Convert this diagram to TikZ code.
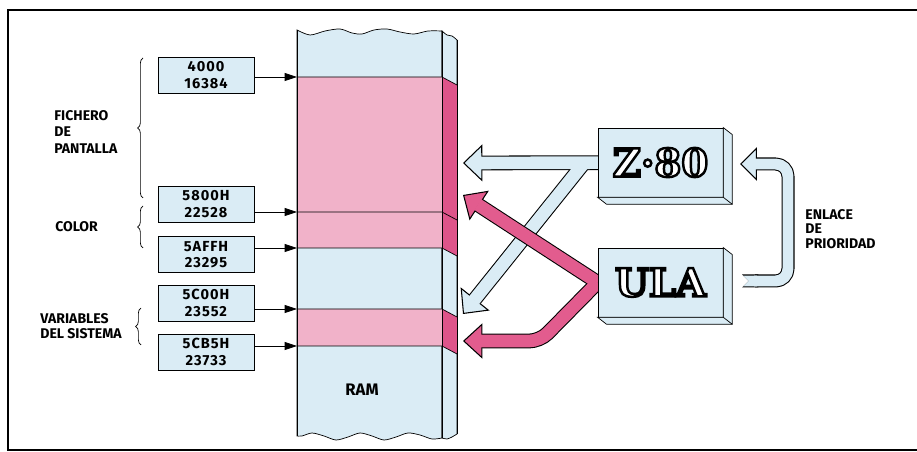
\documentclass[tikz,border=0pt]{standalone}
\usepackage{fontspec}
\setmainfont{Fira Sans}
\newfontfamily\chipfont{DejaVu Serif}
\usetikzlibrary{arrows.meta,decorations.pathreplacing,calc,backgrounds}
\definecolor{ramblue}{RGB}{218,236,245}
\definecolor{rampink}{RGB}{241,178,201}
\definecolor{sidepink}{RGB}{222,84,138}
\definecolor{buspink}{RGB}{226,92,142}
\newcommand\hollow[1]{\special{pdf:literal direct 2 Tr 1.4 w 0 G}#1\special{pdf:literal direct 0 Tr}}
\begin{document}
\begin{tikzpicture}[x=0.02cm, y=-0.02cm,
  addr/.style={draw, fill=ramblue, minimum width=1.92cm, minimum height=0.72cm, inner sep=0pt, align=center, font=\fontsize{8.3}{9.3}\selectfont\bfseries\addfontfeatures{LetterSpace=7}},
  ptr/.style={-{Triangle[length=7pt,width=4.5pt]}},
  lbl/.style={anchor=west, align=left, inner sep=0pt, font=\fontsize{8}{8.2}\selectfont\bfseries},
  curly/.style={decorate, decoration={brace, amplitude=3pt}},
  chip/.style={draw, fill=ramblue, minimum width=2.5cm, minimum height=1.38cm, text=white, font=\chipfont\bfseries\fontsize{22}{22}\selectfont},
  bandout/.style={line width=8.4pt, line join=round},
  bandin/.style={line width=7.2pt, line join=round, shorten >=10pt},
  bluehead/.style={-{Triangle[length=11pt 0 0, width=21pt 0 0, line width=0.6pt 0 0, fill=ramblue]}},
  pinkhead/.style={-{Triangle[length=11pt 0 0, width=20pt 0 0, line width=0.6pt 0 0, fill=buspink]}},
]
\useasboundingbox (0,0) rectangle (917,452);
\draw[line width=1.3pt] (917,10) -- (8,10) -- (8,450) -- (917,450);

\filldraw[fill=ramblue] (297,436) -- (297,30) -- plot[smooth] coordinates {(297,30) (310,35) (325,31) (340,29) (352,33) (362,34) (374,30) (387,29) (400,32) (414,34) (428,31) (442,31)} -- (442,438) -- plot[smooth] coordinates {(442,438) (432,439) (420,435) (408,433) (396,437) (384,440) (372,436) (360,433) (348,437) (336,440) (324,436) (312,433) (302,436) (297,436)} -- cycle;
\filldraw[fill=ramblue] (442,31) -- plot[smooth] coordinates {(442,31) (447,35) (452,36) (457,40)} -- (457,434) -- plot[smooth] coordinates {(457,434) (452,437) (447,439) (442,438)} -- cycle;
\fill[rampink] (297,77) rectangle (442,248) (297,309) rectangle (442,346);
\fill[sidepink] (442,77) -- (457,85) -- (457,256) -- (442,248) -- cycle (442,309) -- (457,317) -- (457,354) -- (442,346) -- cycle;
\draw (297,30) -- (297,436) (442,31) -- (442,438) (457,40) -- (457,434);
\foreach \y/\n in {77/a,212/b,248/c,309/d,346/e} {
  \draw (297,\y) -- (442,\y) -- (457,\y+8);
  \coordinate (ram\n) at (297,\y);
}
\node[font=\fontsize{9.5}{10}\selectfont\bfseries] (ramtxt) at (362,390) {RAM};

\node[addr] (a4000) at (206,75) {4000\\16384};
\node[addr] (a5800) at (206,204) {5800H\\22528};
\node[addr] (a5AFF) at (206,254.5) {5AFFH\\23295};
\node[addr] (a5C00) at (206,303) {5C00H\\23552};
\node[addr] (a5CB5) at (206,352) {5CB5H\\23733};
\foreach \b/\n in {a4000/a,a5800/b,a5AFF/c,a5C00/d,a5CB5/e}
  \draw[ptr] (\b.east |- ram\n) -- (ram\n);

\draw[curly] (143,198) -- (143,58);
\draw[curly] (143,248) -- (143,206);
\draw[curly] (141,345) -- (141,308);
\node[lbl, font=\fontsize{8}{9.4}\selectfont\bfseries] (lpant) at (54,132) {FICHERO\\DE\\PANTALLA};
\node[lbl] (lcolor) at (55,227) {COLOR};
\node[lbl] (lvars) at (40,326) {VARIABLES\\DEL SISTEMA};
\node[lbl] (lprio) at (805,229) {ENLACE\\DE\\PRIORIDAD};

\node[chip] (z80) at (660.5,162.5) {\hollow{Z·80}};
\node[chip] (ula) at (660.5,282.5) {\hollow{ULA}};
\foreach \c in {z80,ula} {
  \filldraw[fill=ramblue] (\c.north east) -- ++(9,7) -- ($(\c.south east)+(9,7)$) -- ($(\c.south west)+(9,7)$) -- (\c.south west) -- (\c.south east) -- cycle;
  \draw (\c.south east) -- ++(9,7);
}

\coordinate (zfork) at (584,163);
\coordinate (ztipA) at (463,163);
\coordinate (ztipB) at (463,314);
\coordinate (utipA) at (463,195);
\coordinate (uknee) at (540,341);
\coordinate (utipB) at (463,341);
\begin{scope}[on background layer]
\draw[bandout, bluehead] (z80.center) -- (ztipA);
\draw[bandout, bluehead] (zfork) -- (ztipB);
\draw[bandin, ramblue] (z80.center) -- (ztipA);
\draw[bandin, ramblue] (zfork) -- (ztipB);
\draw[bandout, pinkhead] (ula.west) -- (utipA);
\draw[bandout, pinkhead, rounded corners=6pt] (ula.west) -- (uknee) -- (utipB);
\draw[bandin, buspink] (ula.west) -- (utipA);
\draw[bandin, buspink, rounded corners=6pt] (ula.west) -- (uknee) -- (utipB);
\end{scope}

\coordinate (linkS) at (742,281);
\coordinate (linkT) at (740,164);
\draw[bandout, line width=7.4pt, rounded corners=7pt, {Triangle Cap[reversed]}-{Triangle[length=9.6pt 0 0, width=19pt 0 0, line width=0.6pt 0 0, fill=ramblue]}] (linkS) -- (788,281) -- (788,164) -- (linkT);
\draw[bandin, line width=6.2pt, ramblue, rounded corners=7pt, shorten >=8.6pt, shorten <=0.7pt, {Triangle Cap[reversed]}-] (linkS) -- (788,281) -- (788,164) -- (linkT);
\end{tikzpicture}
\end{document}
